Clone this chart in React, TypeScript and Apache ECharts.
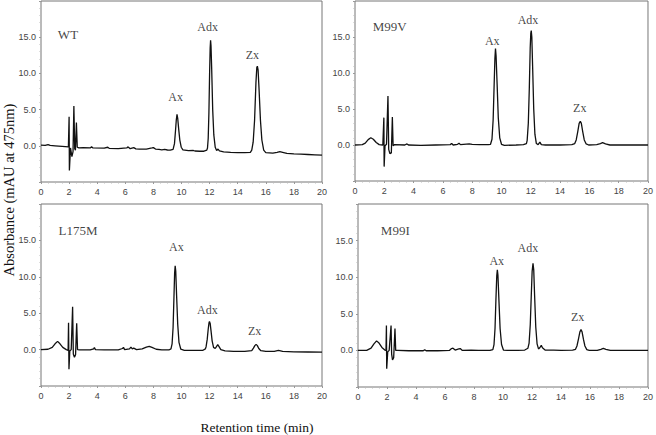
import React, { useEffect, useRef } from "react";
import * as echarts from "echarts";

// Retention time (min) / absorbance (mAU) traces
const wtTrace: number[][] = [
  [0, 0.1], [0.3, 0.05], [0.5, 0.15], [0.65, 0.05], [1.0, 0.0], [1.5, -0.08], [1.95, -0.15],
  [2.0, 4.0], [2.02, -3.4], [2.1, -0.3], [2.2, -1.5], [2.28, -0.8], [2.34, 5.5], [2.4, -0.4], [2.45, -0.6], [2.52, 3.2], [2.58, -0.2], [2.7, -0.3],
  [3.0, -0.25], [3.5, -0.3], [3.6, -0.15], [3.7, -0.3], [4.5, -0.32], [4.75, -0.2], [4.85, -0.35], [5.5, -0.38], [6.1, -0.3], [6.2, -0.15], [6.35, -0.4], [6.6, -0.25], [6.75, -0.42], [7.0, -0.45], [7.5, -0.45], [7.9, -0.3], [8.0, -0.25], [8.15, -0.45], [8.4, -0.5], [8.6, -0.55], [8.8, -0.5], [9.0, -0.58], [9.2, -0.6],
  [9.4, -0.5], [9.5, 0.3], [9.57, 2.0], [9.63, 3.6], [9.68, 4.33], [9.73, 3.8], [9.8, 2.3], [9.88, 0.8], [9.98, -0.2], [10.1, -0.55],
  [10.5, -0.68], [10.85, -0.65], [10.95, -0.72], [11.3, -0.75], [11.6, -0.75], [11.8, -0.6],
  [11.85, -0.3], [11.9, 1.0], [11.95, 4.5], [12.0, 10.0], [12.04, 13.5], [12.07, 14.56], [12.1, 13.8], [12.15, 10.5], [12.22, 5.0], [12.3, 1.5], [12.4, -0.2], [12.5, -0.65],
  [12.6, -0.45], [12.7, -0.7], [13.0, -0.85], [13.5, -0.9], [14.0, -0.93], [14.5, -0.95], [14.9, -0.9],
  [15.0, -0.6], [15.1, 0.5], [15.2, 3.5], [15.3, 8.8], [15.36, 10.8], [15.4, 11.0], [15.45, 10.5], [15.52, 7.8], [15.62, 3.5], [15.72, 0.8], [15.85, -0.6], [16.0, -0.95],
  [16.5, -1.0], [16.8, -0.9], [17.0, -0.82], [17.2, -0.9], [17.5, -1.05], [18.0, -1.12], [18.5, -1.15], [19.0, -1.2], [19.5, -1.25], [20, -1.3],
];

const m99vTrace: number[][] = [
  [0, 0.0], [0.5, 0.05], [0.7, 0.25], [0.9, 0.75], [1.08, 1.0], [1.25, 0.8], [1.45, 0.35], [1.65, 0.05], [1.9, 0.0],
  [1.97, 3.8], [1.99, -3.0], [2.05, -0.1], [2.15, 0.1], [2.25, 6.8], [2.3, -0.6], [2.38, -1.2], [2.48, -1.1], [2.55, 3.9], [2.6, -0.1], [2.7, 0.05],
  [3.4, 0.0], [3.55, 0.15], [3.65, 0.0], [4.5, -0.05], [5.5, 0.0], [6.5, 0.05], [6.6, 0.2], [6.7, 0.0], [7.0, 0.1], [7.1, 0.25], [7.2, 0.05], [7.8, 0.15], [8.0, 0.1], [8.5, 0.05], [9.1, 0.05],
  [9.25, 0.1], [9.35, 0.8], [9.43, 3.5], [9.5, 8.5], [9.55, 12.0], [9.59, 13.4], [9.63, 12.4], [9.7, 8.5], [9.78, 3.8], [9.88, 1.0], [10.0, 0.1], [10.2, -0.05],
  [11.0, 0.0], [11.5, 0.05], [11.7, 0.2],
  [11.75, 0.6], [11.83, 3.0], [11.9, 8.0], [11.96, 13.5], [12.0, 15.5], [12.03, 15.9], [12.07, 15.0], [12.13, 10.5], [12.2, 5.0], [12.28, 1.5], [12.38, 0.2], [12.5, 0.05], [12.62, 0.4], [12.72, 0.05], [13.0, 0.0], [14.0, 0.0], [14.8, 0.05],
  [15.0, 0.2], [15.1, 0.7], [15.2, 1.8], [15.3, 3.0], [15.38, 3.3], [15.45, 3.0], [15.55, 1.8], [15.65, 0.7], [15.78, 0.15], [15.95, 0.0],
  [16.5, 0.05], [16.75, 0.2], [16.9, 0.32], [17.1, 0.15], [17.4, 0.0], [18, 0.0], [19, 0.0], [20, 0.0],
];

const l175mTrace: number[][] = [
  [0, 0.0], [0.5, 0.05], [0.8, 0.3], [1.0, 0.8], [1.18, 1.13], [1.35, 0.8], [1.55, 0.3], [1.8, 0.0], [1.93, -0.1],
  [1.96, 3.7], [1.99, -2.7], [2.05, -0.2], [2.15, 0.0], [2.25, 5.9], [2.3, -0.6], [2.38, -1.05], [2.46, -0.7], [2.54, 3.6], [2.6, 0.0], [2.75, -0.05],
  [3.5, -0.05], [3.75, 0.1], [3.8, 0.3], [3.87, 0.0], [4.5, -0.05], [5.5, -0.05], [5.8, 0.15], [5.87, 0.3], [5.95, 0.0], [6.3, 0.1], [6.4, 0.35], [6.5, 0.1], [6.6, 0.2], [6.8, 0.0], [7.2, 0.1], [7.5, 0.35], [7.7, 0.45], [7.9, 0.3], [8.2, 0.05], [8.6, -0.05], [9.1, -0.05],
  [9.25, 0.1], [9.33, 0.8], [9.4, 3.0], [9.46, 7.0], [9.51, 10.5], [9.55, 11.5], [9.59, 10.8], [9.65, 7.5], [9.73, 3.5], [9.82, 1.0], [9.95, 0.05], [10.2, -0.1],
  [11.0, -0.12], [11.5, -0.12], [11.7, 0.1],
  [11.75, 0.4], [11.83, 1.4], [11.9, 2.8], [11.96, 3.7], [11.99, 3.85], [12.04, 3.6], [12.1, 2.6], [12.18, 1.2], [12.28, 0.3], [12.4, 0.15], [12.5, 0.45], [12.58, 0.68], [12.66, 0.45], [12.8, 0.0], [13.1, -0.18], [13.7, -0.25], [14.5, -0.25], [15.0, -0.15],
  [15.12, 0.2], [15.22, 0.55], [15.31, 0.72], [15.4, 0.55], [15.5, 0.15], [15.65, -0.15], [16.0, -0.25],
  [16.6, -0.25], [16.9, -0.12], [17.2, -0.25], [18, -0.3], [19, -0.33], [20, -0.36],
];

const m99iTrace: number[][] = [
  [0, 0.0], [0.6, 0.0], [0.9, 0.3], [1.1, 0.9], [1.28, 1.3], [1.45, 1.0], [1.65, 0.4], [1.85, 0.05], [1.93, 0.0],
  [1.96, 3.4], [1.98, -2.5], [2.05, -0.2], [2.15, 0.0], [2.28, 3.4], [2.32, -0.5], [2.38, -1.3], [2.46, -1.0], [2.55, 3.0], [2.6, 0.0], [2.75, 0.0],
  [3.5, -0.05], [4.5, -0.05], [4.6, 0.1], [4.7, -0.05], [5.5, -0.05], [6.3, 0.0], [6.45, 0.25], [6.55, 0.3], [6.7, 0.05], [6.95, 0.2], [7.05, 0.25], [7.2, 0.0], [7.8, 0.05], [8.3, 0.0], [9.1, 0.0],
  [9.3, 0.1], [9.38, 0.8], [9.45, 3.0], [9.51, 6.8], [9.57, 10.2], [9.61, 11.0], [9.65, 10.3], [9.72, 6.8], [9.8, 3.0], [9.9, 0.8], [10.03, 0.05], [10.3, 0.0],
  [11.0, 0.0], [11.5, 0.05], [11.72, 0.3],
  [11.8, 1.0], [11.88, 3.5], [11.95, 7.5], [12.01, 10.8], [12.07, 11.9], [12.12, 11.0], [12.18, 7.5], [12.26, 3.2], [12.35, 0.9], [12.45, 0.2], [12.55, 0.4], [12.64, 0.7], [12.72, 0.35], [12.9, 0.05], [13.5, 0.05], [14.0, 0.0], [14.8, 0.05],
  [15.0, 0.15], [15.1, 0.6], [15.2, 1.5], [15.3, 2.5], [15.38, 2.85], [15.45, 2.55], [15.55, 1.5], [15.65, 0.6], [15.78, 0.1], [15.95, 0.0],
  [16.5, 0.0], [16.75, 0.15], [16.92, 0.27], [17.1, 0.15], [17.4, 0.0], [18, 0.0], [19, 0.0], [20, 0.0],
];

// Annotations: [label, time, absorbance]
const wtLabels: [string, number, number][] = [["Ax", 9.58, 6.7], ["Adx", 11.86, 16.4], ["Zx", 15.05, 12.5]];
const m99vLabels: [string, number, number][] = [["Ax", 9.37, 14.5], ["Adx", 11.81, 17.4], ["Zx", 15.34, 5.2]];
const l175mLabels: [string, number, number][] = [["Ax", 9.64, 14.1], ["Adx", 11.84, 5.4], ["Zx", 15.21, 2.6]];
const m99iLabels: [string, number, number][] = [["Ax", 9.57, 12.2], ["Adx", 11.72, 14.0], ["Zx", 15.15, 4.5]];

const panelNames = ["WT", "M99V", "L175M", "M99I"];
const panelNamePos: number[][] = [[1.92, 15.4], [2.37, 16.4], [2.64, 16.3], [2.57, 16.4]];

const xTicks = [0, 2, 4, 6, 8, 10, 12, 14, 16, 18, 20];
const yLabelled = [0, 5, 10, 15];

const traces = [wtTrace, m99vTrace, l175mTrace, m99iTrace];
const peakLabels = [wtLabels, m99vLabels, l175mLabels, m99iLabels];

const SERIF = "'Liberation Serif', 'Times New Roman', serif";
const SANS = "'Liberation Sans', Arial, sans-serif";

export default function App() {
  const ref = useRef<HTMLDivElement>(null);
  useEffect(() => {
    if (!ref.current) return;
    const chart = echarts.init(ref.current, undefined, { renderer: "svg" });
    const grids = [
      { left: 41, top: 1, width: 281, height: 181 },
      { left: 355, top: 1, width: 296, height: 180 },
      { left: 41, top: 204, width: 281, height: 182 },
      { left: 358, top: 204, width: 293, height: 183 },
    ];
    const xAxes = grids.map((_, i) => ({
      type: "value",
      gridIndex: i,
      min: xTicks[0],
      max: xTicks[xTicks.length - 1],
      interval: 2,
      axisLine: { show: false, onZero: false },
      axisTick: { show: true, length: 2, lineStyle: { color: "#999" } },
      minorTick: { show: true, splitNumber: 4, length: 1.5, lineStyle: { color: "#bbb" } },
      splitLine: { show: false },
      axisLabel: { fontFamily: SANS, fontSize: 9, color: "#444", margin: 5 },
    }));
    const yAxes = grids.map((_, i) => ({
      type: "value",
      gridIndex: i,
      min: -5,
      max: 20,
      interval: 5,
      axisLine: { show: false, onZero: false },
      axisTick: { show: true, length: 2, lineStyle: { color: "#999" } },
      minorTick: { show: true, splitNumber: 5, length: 1.5, lineStyle: { color: "#bbb" } },
      splitLine: { show: false },
      axisLabel: {
        fontFamily: SANS,
        fontSize: 9,
        color: "#444",
        margin: 5,
        formatter: (v: number) => (yLabelled.indexOf(v) >= 0 ? v.toFixed(1) : ""),
      },
    }));
    const series: any[] = [];
    traces.forEach((tr, i) => {
      series.push({
        type: "line",
        xAxisIndex: i,
        yAxisIndex: i,
        data: tr,
        showSymbol: false,
        symbol: "none",
        lineStyle: { color: "#111", width: 1.3 },
        silent: true,
      });
      series.push({
        type: "scatter",
        xAxisIndex: i,
        yAxisIndex: i,
        symbolSize: 0,
        silent: true,
        data: peakLabels[i].map((l) => ({ name: l[0], value: [l[1], l[2]] })),
        label: { show: true, position: "inside", formatter: "{b}", color: "#111", fontFamily: SERIF, fontSize: 12 },
      });
      series.push({
        type: "scatter",
        xAxisIndex: i,
        yAxisIndex: i,
        symbolSize: 0,
        silent: true,
        data: [{ name: panelNames[i], value: panelNamePos[i] }],
        label: { show: true, position: "inside", formatter: "{b}", color: "#111", fontFamily: SERIF, fontSize: 13 },
      });
    });
    chart.setOption({
      animation: false,
      backgroundColor: "#fff",
      grid: grids.map((g) => ({ ...g, show: true, borderColor: "#777", borderWidth: 1, backgroundColor: "transparent" })),
      xAxis: xAxes,
      yAxis: yAxes,
      series,
      graphic: [
        {
          type: "text",
          x: 9,
          y: 190,
          rotation: Math.PI / 2,
          style: {
            text: "Absorbance (mAU at 475nm)",
            fontFamily: SERIF,
            fontSize: 14.5,
            fill: "#111",
            align: "center",
            verticalAlign: "middle",
          },
        },
        {
          type: "text",
          x: 257,
          y: 427,
          style: {
            text: "Retention time (min)",
            fontFamily: SERIF,
            fontSize: 13.5,
            fill: "#111",
            align: "center",
            verticalAlign: "middle",
          },
        },
      ],
    });
    return () => chart.dispose();
  }, []);
  return (
    <div
      ref={ref}
      style={{ position: "fixed", left: 0, top: 0, width: 656, height: 435, background: "#fff" }}
    />
  );
}
